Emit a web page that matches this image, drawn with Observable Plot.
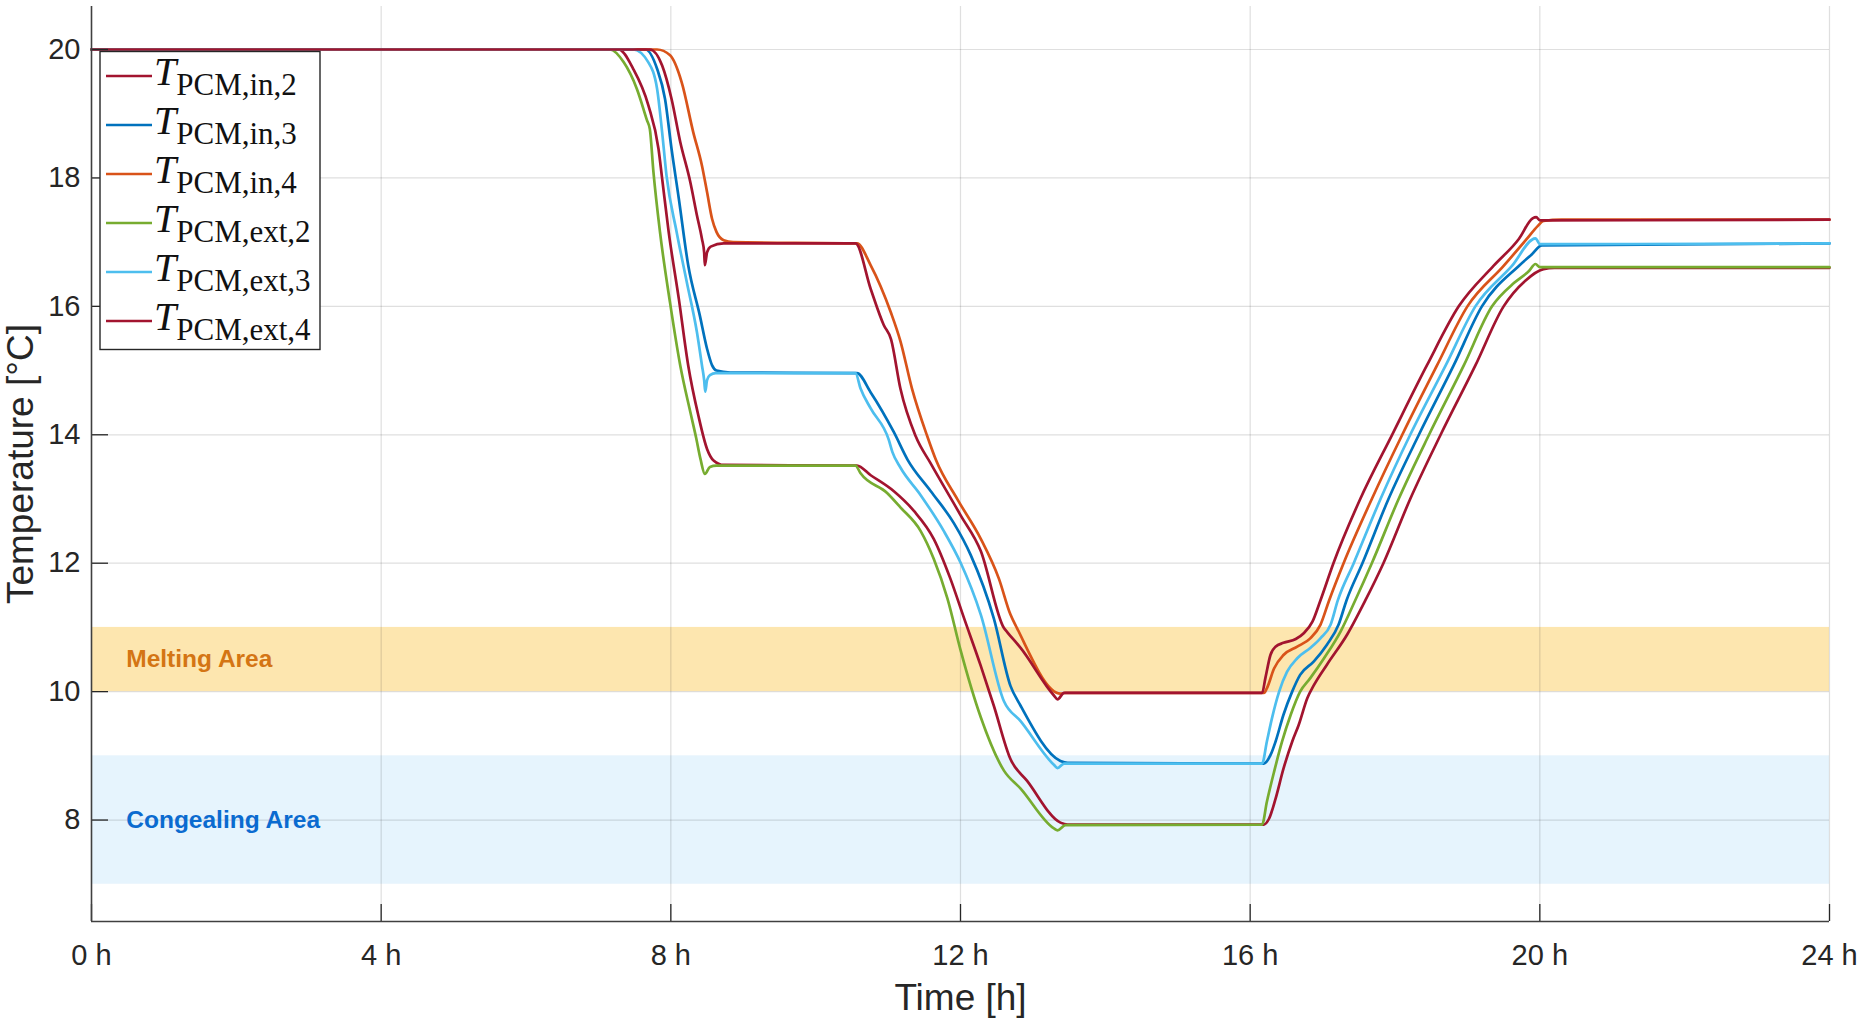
<!DOCTYPE html>
<html><head><meta charset="utf-8">
<script src="https://cdn.jsdelivr.net/npm/d3@7"></script>
<script src="https://cdn.jsdelivr.net/npm/@observablehq/plot@0.6"></script>
<style>body{margin:0;background:#fff} svg{display:block}</style>
</head><body><div id="chart"></div>
<script>
// ---------------- data ----------------
const seriesNames = ["in,2", "in,3", "in,4", "ext,2", "ext,3", "ext,4"];
const seriesColors = ["#A2142F", "#0072BD", "#D95319", "#77AC30", "#4DBEEE", "#A2142F"];

const t_in2 = [0, 7.28, 7.48, 7.69, 7.83, 7.88, 7.97, 8.11, 8.24, 8.38, 8.50, 8.59, 8.73, 10.57, 10.76, 11.08, 11.36, 11.63, 11.86, 12.05, 12.28, 12.46, 12.69, 12.92, 13.38, 13.48,
  16.19, 16.26, 16.35, 16.46, 16.58, 16.67, 16.79, 16.88, 17.06, 17.34, 17.59, 17.84, 18.21, 18.63, 19.11, 19.50, 19.80, 20.05, 20.2, 24];
const v_in2 = [20, 20, 19.70, 19.13, 18.45, 17.99, 17.16, 16.12, 15.08, 14.30, 13.78, 13.60, 13.53, 13.52, 13.37, 13.12, 12.81, 12.38, 11.76, 11.14, 10.40, 9.78, 8.95, 8.61, 7.96, 7.93,
  7.93, 8.02, 8.33, 8.80, 9.22, 9.48, 9.90, 10.10, 10.42, 10.89, 11.42, 12.0, 13.0, 14.0, 15.08, 16.0, 16.40, 16.58, 16.60, 16.60];

const t_in3 = [0, 7.65, 7.81, 7.92, 8.01, 8.11, 8.24, 8.40, 8.50, 8.57, 8.63, 8.82, 10.57, 10.76, 11.08, 11.27, 11.59, 11.91, 12.14, 12.46, 12.69, 12.83, 13.38, 13.48,
  16.19, 16.28, 16.35, 16.46, 16.58, 16.69, 16.88, 17.06, 17.22, 17.33, 17.55, 17.91, 18.33, 18.81, 19.20, 19.71, 19.88, 20.03, 24];
const v_in3 = [20, 20, 19.70, 19.23, 18.45, 17.68, 16.64, 15.86, 15.34, 15.08, 15.00, 14.97, 14.96, 14.66, 14.04, 13.61, 13.12, 12.62, 12.13, 11.14, 10.09, 9.78, 8.92, 8.89,
  8.88, 9.01, 9.22, 9.64, 10.0, 10.26, 10.47, 10.73, 11.04, 11.42, 12.0, 13.0, 14.0, 15.08, 16.0, 16.63, 16.80, 16.95, 16.98];

const t_in4 = [0, 7.81, 7.99, 8.15, 8.31, 8.43, 8.50, 8.57, 8.63, 8.73, 8.86, 10.57, 10.76, 11.04, 11.17, 11.33, 11.54, 11.66, 11.96, 12.28, 12.53, 12.69, 12.78, 13.38, 13.45,
  16.19, 16.23, 16.33, 16.46, 16.65, 16.83, 16.97, 17.09, 17.29, 17.68, 18.10, 18.58, 19.00, 19.50, 19.82, 19.97, 20.05, 20.3, 24];
const v_in4 = [20, 20, 19.91, 19.49, 18.71, 18.19, 17.78, 17.36, 17.16, 17.03, 17.00, 16.98, 16.64, 15.90, 15.46, 14.72, 13.98, 13.61, 12.99, 12.38, 11.76, 11.20, 10.99, 9.97, 9.98,
  9.98, 10.05, 10.36, 10.57, 10.70, 10.83, 11.04, 11.42, 12.0, 13.0, 14.0, 15.08, 16.0, 16.63, 17.05, 17.25, 17.33, 17.35, 17.35];

const t_ext2 = [0, 7.16, 7.35, 7.53, 7.67, 7.71, 7.76, 7.85, 7.99, 8.13, 8.27, 8.35, 8.41, 8.47, 8.54, 8.63, 10.55, 10.62, 10.99, 11.17, 11.45, 11.63, 11.82, 12.0, 12.28, 12.60, 12.83, 13.29, 13.34, 13.45,
  16.165, 16.23, 16.33, 16.44, 16.56, 16.69, 16.83, 17.02, 17.25, 17.45, 17.68, 18.05, 18.47, 18.95, 19.34, 19.65, 19.85, 19.94, 20.0, 24];
const v_ext2 = [20, 20, 19.80, 19.39, 18.90, 18.76, 18.09, 17.16, 16.05, 15.08, 14.35, 13.95, 13.62, 13.39, 13.50, 13.52, 13.52, 13.40, 13.09, 12.87, 12.50, 12.07, 11.45, 10.65, 9.60, 8.77, 8.49, 7.87, 7.84, 7.92,
  7.93, 8.28, 8.75, 9.22, 9.64, 10.0, 10.21, 10.52, 10.94, 11.42, 12.0, 13.0, 14.0, 15.08, 16.0, 16.37, 16.55, 16.66, 16.61, 16.61];

const t_ext3 = [0, 7.48, 7.69, 7.81, 7.88, 7.94, 8.08, 8.22, 8.36, 8.43, 8.46, 8.475, 8.50, 8.54, 8.62, 10.55, 10.62, 10.76, 11.01, 11.06, 11.17, 11.45, 11.77, 12.0, 12.28, 12.60, 12.83, 13.29, 13.34, 13.43,
  16.165, 16.23, 16.30, 16.40, 16.51, 16.65, 16.83, 16.97, 17.11, 17.21, 17.43, 17.80, 18.21, 18.70, 19.11, 19.615, 19.94, 20.0, 24];
const v_ext3 = [20, 20, 19.80, 19.39, 18.71, 18.04, 17.16, 16.38, 15.60, 15.08, 14.85, 14.67, 14.85, 14.93, 14.96, 14.96, 14.72, 14.41, 13.92, 13.73, 13.49, 13.06, 12.50, 12.01, 11.20, 9.85, 9.54, 8.86, 8.81, 8.88,
  8.88, 9.22, 9.58, 10.0, 10.31, 10.52, 10.68, 10.83, 11.04, 11.42, 12.0, 13.0, 14.0, 15.08, 16.0, 16.63, 17.06, 16.97, 16.98];

const t_ext4 = [0, 7.71, 7.88, 8.01, 8.13, 8.27, 8.36, 8.43, 8.46, 8.47, 8.50, 8.55, 8.73, 10.55, 10.76, 10.94, 11.04, 11.17, 11.38, 11.59, 12.0, 12.28, 12.60, 12.65, 12.83, 13.29, 13.34, 13.43,
  16.165, 16.21, 16.28, 16.35, 16.46, 16.63, 16.74, 16.86, 16.97, 17.15, 17.52, 17.96, 18.44, 18.88, 19.36, 19.71, 19.90, 19.95, 20.0, 24];
const v_ext4 = [20, 20, 19.75, 19.23, 18.56, 17.93, 17.42, 17.05, 16.84, 16.64, 16.84, 16.93, 16.98, 16.98, 16.27, 15.71, 15.49, 14.72, 13.98, 13.55, 12.75, 12.19, 10.99, 10.92, 10.68, 9.94, 9.88, 9.98,
  9.98, 10.21, 10.57, 10.70, 10.76, 10.82, 10.91, 11.09, 11.42, 12.0, 13.0, 14.0, 15.08, 16.0, 16.63, 17.05, 17.37, 17.39, 17.34, 17.35];

const seriesT = [t_in2, t_in3, t_in4, t_ext2, t_ext3, t_ext4];
const seriesV = [v_in2, v_in3, v_in4, v_ext2, v_ext3, v_ext4];

const xTicks = [0, 4, 8, 12, 16, 20, 24];
const yTicks = [8, 10, 12, 14, 16, 18, 20];
const xDomain = [0, 24];
const yDomain = [6.42, 20.67];

const bandNames = ["Melting Area", "Congealing Area"];
const bandLo = [10, 7];
const bandHi = [11, 9];
const bandFills = ["#FDE6AF", "#E6F4FD"];
const bandTextColors = ["#D47514", "#0B6BD0"];
const bandLabelX = 0.48;

// ------------- build table -------------
const rows = [];
seriesNames.forEach((s, i) => {
  seriesT[i].forEach((t, j) => rows.push({series: s, t, v: seriesV[i][j]}));
});

// ------------- layout -------------
const W = 1867, H = 1022;
const mL = 91, mR = 38, mT = 6, mB = 101;
const frameW = W - mL - mR, frameH = H - mT - mB;
const tickLen = 17;

function legendMark(index, scales, values, dims) {
  const g = d3.create("svg:g");
  const bx = dims.marginLeft + 9, by = dims.marginTop + 45.5;
  const bw = 220, bh = 298, step = 49;
  g.append("rect").attr("x", bx).attr("y", by).attr("width", bw).attr("height", bh)
    .attr("fill", "white").attr("stroke", "#262626").attr("stroke-width", 1.4);
  seriesNames.forEach((s, i) => {
    const cy = by + 24.5 + i * step;
    g.append("line").attr("x1", bx + 6).attr("x2", bx + 52).attr("y1", cy).attr("y2", cy)
      .attr("stroke", seriesColors[i]).attr("stroke-width", 2.6);
    const txt = g.append("text").attr("x", bx + 54).attr("y", cy + 9)
      .style("font-family", "'Liberation Serif', 'DejaVu Serif', serif")
      .style("text-anchor", "start")
      .attr("text-anchor", "start")
      .style("fill", "#111");
    txt.append("tspan").style("font-style", "italic").style("font-size", "40px").text("T");
    txt.append("tspan").style("font-size", "31px").attr("dy", 10).attr("dx", 0).text("PCM," + s);
  });
  return g.node();
}

const marks = [];
bandNames.forEach((b, i) => {
  marks.push(Plot.rect([{lo: bandLo[i], hi: bandHi[i]}], {y1: "lo", y2: "hi", fill: bandFills[i]}));
});
marks.push(
  Plot.gridX(xTicks.filter(d => d > xDomain[0]), {stroke: "#262626", strokeOpacity: 0.15, strokeWidth: 1.2}),
  Plot.gridY(yTicks, {stroke: "#262626", strokeOpacity: 0.15, strokeWidth: 1.2})
);
bandNames.forEach((b, i) => {
  marks.push(Plot.text([b], {x: bandLabelX, y: (bandLo[i] + bandHi[i]) / 2, text: d => d,
    textAnchor: "start", fontWeight: "bold", fontSize: 24.5, fill: bandTextColors[i],
    fontFamily: "'Liberation Sans', Arial, sans-serif"}));
});
marks.push(
  Plot.line(rows, {x: "t", y: "v", z: "series", stroke: "series", strokeWidth: 2.7, curve: "monotone-x"}),
  // inward ticks
  Plot.tickX(xTicks, {x: d => d, insetTop: frameH - tickLen, stroke: "#262626", strokeWidth: 1.3}),
  Plot.tickY(yTicks, {y: d => d, insetRight: frameW - tickLen, stroke: "#262626", strokeWidth: 1.3}),
  // axis lines
  Plot.ruleX([xDomain[0]], {stroke: "#404040", strokeWidth: 1.6}),
  Plot.ruleY([yDomain[0]], {stroke: "#404040", strokeWidth: 1.6}),
  Plot.axisX({ticks: xTicks, tickFormat: d => d + " h", tickSize: 0, tickPadding: 23, label: null, fill: "#262626"}),
  Plot.axisY({ticks: yTicks, tickSize: 0, tickPadding: 11, label: null, fill: "#262626"}),
  Plot.text(["Time [h]"], {frameAnchor: "bottom", dy: 88, fontSize: 37, fill: "#262626", text: d => d}),
  Plot.text(["Temperature [°C]"], {frameAnchor: "left", textAnchor: "middle", lineAnchor: "middle", dx: -70, rotate: -90, fontSize: 37, fill: "#262626", text: d => d}),
  legendMark
);

const chart = Plot.plot({
  width: W, height: H,
  marginLeft: mL, marginRight: mR, marginTop: mT, marginBottom: mB,
  x: {domain: xDomain},
  y: {domain: yDomain},
  color: {domain: seriesNames, range: seriesColors},
  style: {background: "white", fontFamily: "'Liberation Sans', Arial, sans-serif", fontSize: "29px", color: "#262626", overflow: "visible"},
  marks
});
document.getElementById("chart").appendChild(chart);
</script></body></html>
